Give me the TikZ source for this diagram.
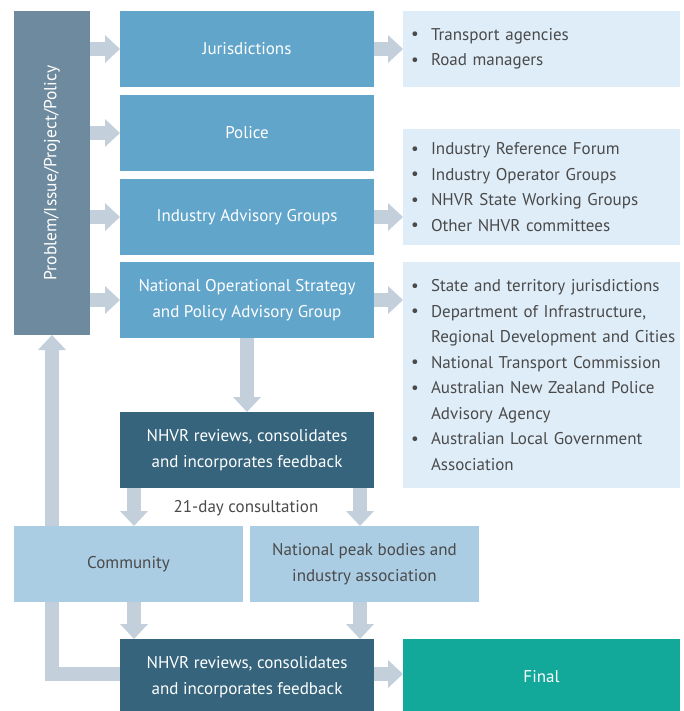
\documentclass[tikz,border=0pt]{standalone}
\usepackage{fontspec}
\setmainfont{PT Sans}
\usetikzlibrary{arrows.meta,backgrounds}

\definecolor{probfill}{HTML}{6E8A9E}
\definecolor{midblue}{HTML}{62A5CB}
\definecolor{listfill}{HTML}{DFEDF8}
\definecolor{darkteal}{HTML}{35647C}
\definecolor{paleblue}{HTML}{ABCDE4}
\definecolor{finalfill}{HTML}{12A89A}
\definecolor{arrowfill}{HTML}{C3CFDB}
\definecolor{bodytext}{HTML}{4A4A4A}

% bullet item and its continuation line
\newcommand{\bitem}[1]{\hspace*{8pt}\makebox[20pt][l]{\raisebox{0.5pt}{\textbullet}}#1}
\newcommand{\bcont}[1]{\hspace*{28pt}#1}

\begin{document}
\begin{tikzpicture}[x=1pt,y=-1pt,
  box/.style={rectangle, inner sep=0pt, outer sep=0pt, anchor=north west,
    align=center, font=\fontsize{17}{25.5}\selectfont},
  bluebox/.style={box, fill=midblue, text=white, minimum width=254, minimum height=76},
  darkbox/.style={box, fill=darkteal, text=white, minimum width=254, minimum height=76},
  palebox/.style={box, fill=paleblue, text=bodytext, minimum width=229, minimum height=76},
  listbox/.style={box, fill=listfill, text=bodytext, align=left, text width=277pt},
  flow/.style={draw=arrowfill, line width=13.5pt, line join=miter,
    -{Triangle[width=27pt,length=15pt]}}
]
\useasboundingbox (0,0) rectangle (684,711);

% left column
\node[box, fill=probfill, text=white, minimum width=76, minimum height=324]
  (prob) at (14,11) {\rotatebox{90}{\fontsize{17.5}{20}\selectfont Problem/Issue/Project/Policy}};

% stakeholder groups
\node[bluebox] (jur)  at (120,11)  {Jurisdictions};
\node[bluebox] (pol)  at (120,95)  {Police};
\node[bluebox] (iag)  at (120,179) {Industry Advisory Groups};
\node[bluebox] (nos)  at (120,262) {National Operational Strategy\\and Policy Advisory Group};

% member lists
\node[listbox, minimum height=76] (ljur) at (403,11)
  {\bitem{Transport agencies}\\\bitem{Road managers}};
\node[listbox, minimum height=116] (liag) at (403,129)
  {\bitem{Industry Reference Forum}\\\bitem{Industry Operator Groups}\\
   \bitem{NHVR State Working Groups}\\\bitem{Other NHVR committees}};
\node[listbox, minimum height=226] (lnos) at (403,262)
  {\bitem{State and territory jurisdictions}\\
   \bitem{Department of Infrastructure,}\\
   \bcont{Regional Development and Cities}\\
   \bitem{National Transport Commission}\\
   \bitem{Australian New Zealand Police}\\
   \bcont{Advisory Agency}\\
   \bitem{Australian Local Government}\\
   \bcont{Association}};

% review and consultation
\node[darkbox] (rev1) at (120,412) {NHVR reviews, consolidates\\and incorporates feedback};
\node[box, text=bodytext] (consult) at (246,508) [anchor=center] {21-day consultation};
\node[palebox] (comm) at (14,526)  {Community};
\node[palebox] (peak) at (250,526) {National peak bodies and\\industry association};
\node[darkbox] (rev2) at (120,639) {NHVR reviews, consolidates\\and incorporates feedback};
\node[box, fill=finalfill, text=white, minimum width=277, minimum height=76]
  (final) at (403,639) {Final};

\begin{scope}[on background layer]
  % problem to each group
  \draw[flow] (prob.east |- jur.west) -- (jur.west);
  \draw[flow] (prob.east |- pol.west) -- (pol.west);
  \draw[flow] (prob.east |- iag.west) -- (iag.west);
  \draw[flow] (prob.east |- nos.west) -- (nos.west);
  % groups to their member lists
  \draw[flow] (jur.east) -- (jur.east -| ljur.west);
  \draw[flow] (iag.east) -- (iag.east -| liag.west);
  \draw[flow] (nos.east) -- (nos.east -| lnos.west);
  % down to review
  \draw[flow] (nos.south) -- (rev1.north);
  % consultation
  \draw[flow] ([xshift=14]rev1.south west) -- ([xshift=14]rev1.south west |- comm.north);
  \draw[flow] ([xshift=-14]rev1.south east) -- ([xshift=-14]rev1.south east |- peak.north);
  \draw[flow] ([xshift=14]rev1.south west |- comm.south) -- ([xshift=14]rev2.north west);
  \draw[flow] ([xshift=-14]rev1.south east |- peak.south) -- ([xshift=-14]rev2.north east);
  % feedback loop and final
  \draw[flow] ([yshift=3]rev2.west) -| (prob.south);
  \draw[flow] ([yshift=3]rev2.east) -- ([yshift=3]rev2.east -| final.west);
\end{scope}
\end{tikzpicture}
\end{document}
